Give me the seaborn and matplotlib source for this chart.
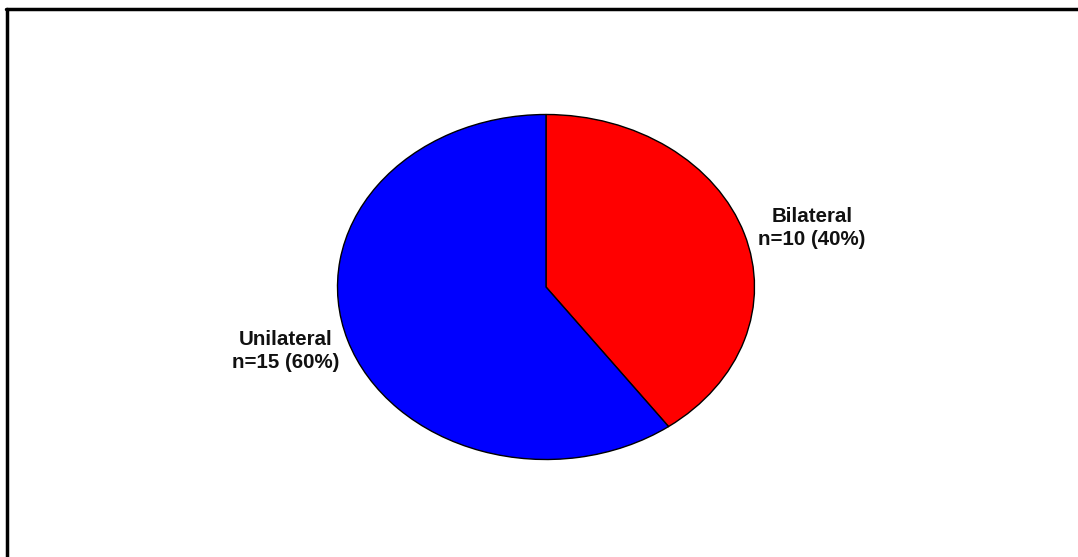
import matplotlib
matplotlib.use("Agg")
import matplotlib.pyplot as plt
import seaborn as sns
from matplotlib.lines import Line2D

sns.set_theme(style="white")
plt.rcParams['font.family'] = ['Liberation Sans', 'DejaVu Sans']

categories = ["Bilateral", "Unilateral"]
counts = [10, 15]
colors = ["#ff0000", "#0000ff"]

W, H = 1078, 557
fig = plt.figure(figsize=(W / 100, H / 100), dpi=100)
ax = fig.add_axes([0, 0, 1, 1])

total = sum(counts)
wedges, _ = ax.pie(counts, colors=colors, startangle=90, counterclock=False,
                   wedgeprops=dict(edgecolor="black", linewidth=1.0))

# pixel geometry of the elliptical pie
cx, cy, rx, ry = 546, 287, 208.5, 172.5
ax.set_aspect('auto')
ax.set_xlim((0 - cx) / rx, (W - cx) / rx)
ax.set_ylim(-(H - cy) / ry, cy / ry)
ax.axis('off')

label_pos = {"Bilateral": (812, 228), "Unilateral": (286, 351)}
for cat, n in zip(categories, counts):
    px, py = label_pos[cat]
    ax.text((px - cx) / rx, -(py - cy) / ry,
            f"{cat}\nn={n} ({n / total * 100:.0f}%)",
            ha="center", va="center", fontsize=14.8, fontweight="bold",
            linespacing=1.3, color="#111111")

# frame lines (top and left)
fig.add_artist(Line2D([6 / W, 1], [1 - 9 / H, 1 - 9 / H], color="black", lw=2.5,
                      transform=fig.transFigure))
fig.add_artist(Line2D([7 / W, 7 / W], [0, 1 - 9 / H], color="black", lw=2.5,
                      transform=fig.transFigure))

fig.savefig("out.png", dpi=100, facecolor="white")
